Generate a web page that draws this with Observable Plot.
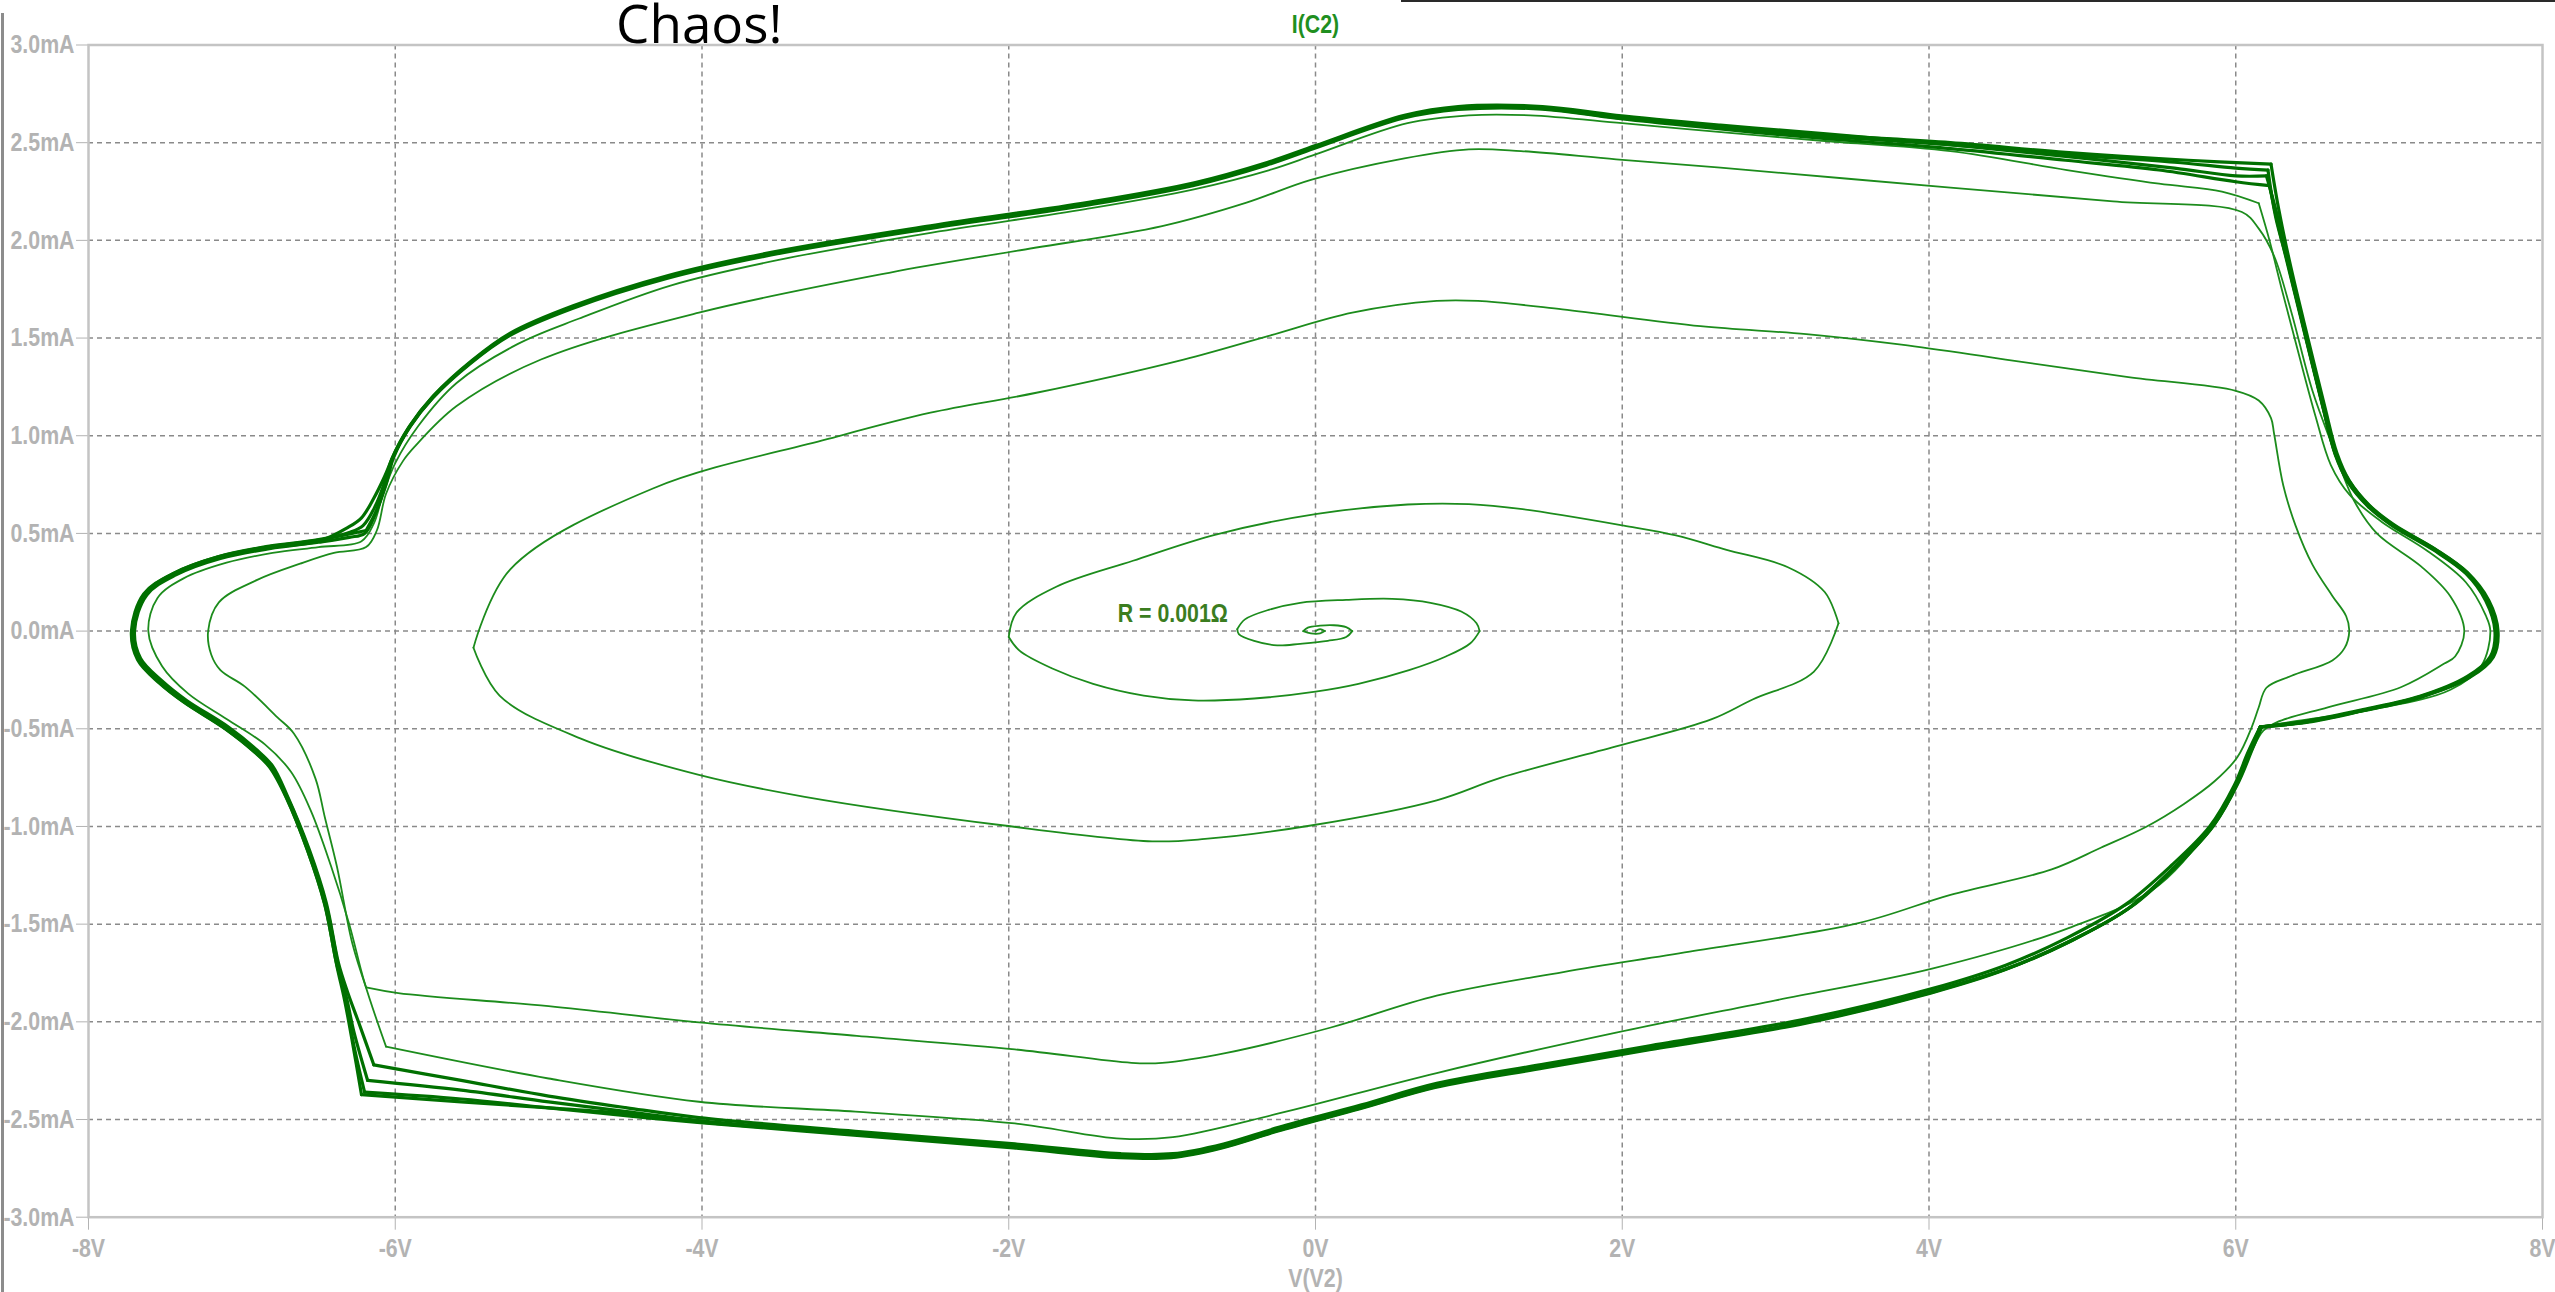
<!DOCTYPE html>
<html>
<head>
<meta charset="utf-8">
<script src="https://cdn.jsdelivr.net/npm/d3@7"></script>
<script src="https://cdn.jsdelivr.net/npm/@observablehq/plot@0.6"></script>
<style>
  html, body { margin: 0; padding: 0; background: #ffffff; }
  #wrap { position: relative; width: 2555px; height: 1292px; overflow: hidden; background: #fff; }
  #title { position: absolute; left: 616px; top: 0px; font-family: "Open Sans", "Noto Sans", sans-serif; font-size: 53px; line-height: 45px; color: #000; white-space: nowrap; }
  #leftbar { position: absolute; left: 1px; top: 13px; width: 3px; height: 1279px; background: #8c8c8c; }
  #topline { position: absolute; left: 1401px; top: 0px; width: 1154px; height: 2px; background: #2a2a2a; }
</style>
</head>
<body>
<div id="wrap">
  <div id="chart"></div>
  <div id="leftbar"></div>
  <div id="topline"></div>
  <div id="title">Chaos!</div>
</div>
<script>
// ---- axis ticks ----
const voltTicks = [-8, -6, -4, -2, 0, 2, 4, 6, 8];
const currentTicks = [-3, -2.5, -2, -1.5, -1, -0.5, 0, 0.5, 1, 1.5, 2, 2.5, 3];
const voltGrid = [-6, -4, -2, 0, 2, 4, 6];
const currentGrid = [-2.5, -2, -1.5, -1, -0.5, 0, 0.5, 1, 1.5, 2, 2.5];

// ---- trajectory V(V2) [V], I(C2) [mA] ----
// start-up: origin -> third loop
const innerSpiral = [
  [0,0],[0.03,0.01],[0.06,0],[0.03,-0.012],[-0.03,-0.012],[-0.08,0],[-0.05,0.018],[0.03,0.028],[0.12,0.03],[0.2,0.02],[0.24,0],
  [0.2,-0.03],[0.08,-0.05],[-0.1,-0.065],[-0.25,-0.073],[-0.4,-0.05],[-0.5,-0.015],[-0.51,0.01],[-0.46,0.06],[-0.3,0.11],[-0.1,0.145],
  [0.2,0.16],[0.5,0.165],[0.75,0.145],[0.95,0.1],[1.05,0.04],[1.07,0],[1.01,-0.062],[0.85,-0.13],[0.61,-0.2],[0.28,-0.27],[0,-0.31],
  [-0.4,-0.345],[-0.8,-0.355],[-1.12,-0.33],[-1.45,-0.27],[-1.72,-0.19],[-1.93,-0.1],[-2,-0.03],[-1.95,0.094],[-1.69,0.227],[-1.19,0.36],
  [-0.65,0.494],[0.01,0.6],[0.6,0.648],[1,0.65],[1.35,0.624],[2.01,0.54],[2.35,0.49],[2.68,0.416],[3.08,0.327],[3.32,0.2],[3.41,0.04]
];
// growing loops before the attractor
const outerSpiral = [
  [3.41,0.04],[3.25,-0.207],[2.85,-0.35],[2.58,-0.452],[1.96,-0.59],[1.21,-0.75],[0.79,-0.866],[-0.03,-0.995],[-0.72,-1.064],[-1.065,-1.076],
  [-2.03,-0.995],[-3.33,-0.848],[-4.02,-0.736],[-4.79,-0.55],[-5.32,-0.33],[-5.49,-0.085],[-5.25,0.316],[-4.32,0.73],[-3.19,0.981],[-2.51,1.118],
  [-1.82,1.22],[-0.86,1.39],[-0.31,1.51],[0.24,1.63],[0.79,1.69],[1.06,1.69],[1.61,1.647],[2.51,1.561],[3.2,1.52],[3.82,1.466],[4.5,1.39],
  [5.3,1.3],[6,1.23],[6.15,1.18],[6.23,1.09],[6.25,1.01],[6.31,0.745],[6.39,0.54],[6.5,0.34],[6.63,0.18],[6.72,0.076],[6.74,0],[6.71,-0.086],
  [6.63,-0.15],[6.36,-0.23],[6.2,-0.29],[6.15,-0.39],[6.105,-0.49],[6.01,-0.646],[5.86,-0.77],[5.66,-0.886],[5.42,-1.0],[5.12,-1.109],[4.8,-1.22],
  [4.14,-1.35],[3.54,-1.495],[2.44,-1.641],[1.615,-1.745],[0.79,-1.866],[0.1,-2.029],[-0.58,-2.159],[-1,-2.21],[-1.2,-2.21],[-1.96,-2.141],
  [-2.99,-2.072],[-4.02,-2.003],[-5,-1.92],[-5.98,-1.853],[-6.19,-1.824],[-6.28,-1.598],[-6.38,-1.206],[-6.46,-0.95],[-6.52,-0.755],[-6.66,-0.525],
  [-6.77,-0.44],[-6.98,-0.284],[-7.14,-0.2],[-7.2,-0.12],[-7.22,0],[-7.15,0.147],[-6.9,0.262],[-6.62,0.345],[-6.4,0.4],[-6.19,0.43],[-6.12,0.515],
  [-6.06,0.703],[-5.95,0.87],[-5.87,0.947],[-5.6,1.152],[-5.05,1.39],[-4.02,1.63],[-2.78,1.834],[-1.96,1.945],[-1,2.073],[-0.45,2.193],[-0.03,2.31],
  [0.58,2.42],[1,2.466],[1.34,2.457],[1.96,2.415],[2.64,2.372],[4.14,2.27],[5.2,2.2],[6.04,2.145],[6.15,2.06],[6.25,1.92],[6.36,1.64],[6.5,1.23],
  [6.63,0.95],[6.77,0.67],[6.92,0.5],[7.21,0.33],[7.4,0.177],[7.49,0],[7.43,-0.13],[7.36,-0.166],[7.08,-0.286],[6.6,-0.39],[6.27,-0.466],[6.18,-0.51],
  [6.1,-0.62],[5.95,-0.866],[5.5,-1.3],[4.91,-1.52],[4.02,-1.728],[3,-1.89],[1.96,-2.055],[0.79,-2.262],[-0.24,-2.469],[-0.93,-2.59],[-1.27,-2.598],
  [-1.96,-2.52],[-3,-2.46],[-4.02,-2.409],[-5,-2.29],[-6.06,-2.127],[-6.2,-1.8],[-6.3,-1.5],[-6.42,-1.2],[-6.55,-0.92],[-6.68,-0.72],[-6.85,-0.58],
  [-7.1,-0.45],[-7.35,-0.32],[-7.52,-0.18],[-7.61,0],[-7.55,0.17],[-7.38,0.27],[-7.1,0.35],[-6.8,0.4],[-6.5,0.43],[-6.22,0.46],[-6.14,0.55],
  [-6.08,0.7],[-6,0.86],[-5.85,1.05],[-5.6,1.27],[-5.2,1.47],[-4.8,1.6],[-4.2,1.77],[-3.5,1.9],[-2.5,2.04],[-1.5,2.16],[-0.8,2.26],[-0.3,2.36],
  [0,2.44],[0.6,2.6],[1,2.64],[1.4,2.64],[2,2.6],[2.7,2.55],[3.3,2.51],[4.14,2.457],[4.9,2.36],[5.5,2.29],[5.91,2.25],[6.15,2.19],[6.22,2],
  [6.3,1.75],[6.4,1.45],[6.52,1.1],[6.62,0.85],[6.74,0.7],[6.95,0.56],[7.25,0.41],[7.5,0.25],[7.63,0.08],[7.66,0],[7.6,-0.18],[7.4,-0.3],
  [6.9,-0.4],[6.4,-0.46],[6.16,-0.49]
];
// chaotic band: successive turns
const bandTurnA = [
  [6.16,-0.49],[6.1,-0.6],[6.01,-0.78],[5.85,-1.0],[5.6,-1.21],[5.3,-1.42],[4.91,-1.59],[4.5,-1.73],[4.02,-1.848],[3.2,-2.003],[2.16,-2.141],
  [1.5,-2.23],[0.79,-2.331],[0.3,-2.44],[-0.24,-2.555],[-0.6,-2.64],[-0.93,-2.69],[-1.27,-2.69],[-1.96,-2.64],[-3,-2.575],[-4.02,-2.512],
  [-4.49,-2.47],[-5,-2.44],[-5.57,-2.41],[-6.22,-2.373],[-6.28,-2.1],[-6.33,-1.89],[-6.38,-1.716],[-6.46,-1.4],[-6.57,-1.127],[-6.71,-0.853],
  [-6.82,-0.696],[-6.92,-0.618],[-7.11,-0.5],[-7.38,-0.363],[-7.54,-0.265],[-7.68,-0.147],[-7.72,0],[-7.64,0.19],[-7.45,0.294],[-7.16,0.379],
  [-6.84,0.43],[-6.51,0.464],[-6.29,0.498],[-6.19,0.515],[-6.12,0.62],[-6.06,0.75],[-6.01,0.89],[-5.9,1.05],[-5.75,1.2],[-5.5,1.38],[-5.25,1.52],
  [-4.84,1.66],[-4.22,1.815],[-3.54,1.935],[-2.51,2.07],[-1.48,2.19],[-0.79,2.29],[-0.31,2.395],[0,2.48],[0.58,2.635],[0.93,2.68],[1.48,2.68],
  [1.96,2.635],[2.64,2.585],[3.33,2.54],[4.14,2.5],[4.89,2.45],[5.69,2.41],[6.23,2.39],[6.28,2.16],[6.36,1.86],[6.47,1.5],[6.58,1.15],[6.66,0.91],
  [6.74,0.77],[6.87,0.645],[7.03,0.545],[7.3,0.42],[7.51,0.3],[7.65,0.157],[7.71,0],[7.68,-0.132],[7.53,-0.235],[7.21,-0.338],[6.84,-0.406],
  [6.47,-0.466],[6.16,-0.49]
];
const bandTurnB = [
  [6.16,-0.49],[6.08,-0.62],[5.99,-0.79],[5.83,-1.0],[5.58,-1.2],[5.28,-1.4],[4.9,-1.57],[4.5,-1.71],[4.02,-1.83],[3.2,-1.985],[2.16,-2.125],
  [1.5,-2.215],[0.79,-2.315],[0.3,-2.425],[-0.24,-2.54],[-0.6,-2.625],[-0.93,-2.675],[-1.27,-2.675],[-1.96,-2.625],[-3,-2.56],[-4.02,-2.49],
  [-4.49,-2.44],[-5,-2.38],[-5.57,-2.3],[-6.14,-2.22],[-6.24,-2],[-6.31,-1.85],[-6.37,-1.7],[-6.45,-1.39],[-6.56,-1.12],[-6.7,-0.85],
  [-6.8,-0.69],[-6.9,-0.61],[-7.09,-0.49],[-7.36,-0.355],[-7.52,-0.255],[-7.66,-0.14],[-7.7,0],[-7.62,0.185],[-7.43,0.288],[-7.14,0.372],
  [-6.82,0.422],[-6.5,0.455],[-6.3,0.48],[-6.2,0.5],[-6.13,0.6],[-6.07,0.74],[-6.02,0.88],[-5.91,1.04],[-5.76,1.19],[-5.51,1.37],[-5.26,1.51],
  [-4.85,1.65],[-4.23,1.805],[-3.55,1.925],[-2.52,2.06],[-1.49,2.18],[-0.8,2.28],[-0.32,2.385],[-0.01,2.47],[0.57,2.625],[0.93,2.67],[1.48,2.672],
  [1.96,2.625],[2.64,2.57],[3.33,2.52],[4.14,2.47],[4.89,2.41],[5.5,2.36],[6,2.3],[6.22,2.28],[6.27,2.1],[6.35,1.84],[6.46,1.49],[6.57,1.14],
  [6.65,0.9],[6.73,0.765],[6.86,0.64],[7.02,0.54],[7.29,0.415],[7.5,0.295],[7.63,0.155],[7.69,0],[7.66,-0.13],[7.51,-0.232],[7.2,-0.334],
  [6.83,-0.402],[6.46,-0.46],[6.17,-0.49]
];
const bandTurnC = [
  [6.17,-0.49],[6.11,-0.6],[6.02,-0.77],[5.86,-0.99],[5.62,-1.2],[5.32,-1.41],[4.93,-1.585],[4.52,-1.725],[4.03,-1.842],[3.21,-1.997],[2.17,-2.135],
  [1.51,-2.225],[0.8,-2.325],[0.31,-2.436],[-0.23,-2.55],[-0.59,-2.636],[-0.92,-2.686],[-1.26,-2.686],[-1.95,-2.635],[-3,-2.57],[-4.02,-2.505],
  [-4.49,-2.46],[-5,-2.41],[-5.57,-2.35],[-6.18,-2.3],[-6.27,-2.05],[-6.32,-1.87],[-6.38,-1.71],[-6.46,-1.395],[-6.57,-1.125],[-6.71,-0.85],
  [-6.81,-0.693],[-6.91,-0.614],[-7.1,-0.496],[-7.37,-0.36],[-7.53,-0.26],[-7.67,-0.145],[-7.71,0],[-7.63,0.188],[-7.44,0.291],[-7.15,0.376],
  [-6.83,0.427],[-6.5,0.46],[-6.31,0.53],[-6.22,0.58],[-6.14,0.68],[-6.07,0.79],[-6.01,0.9],[-5.9,1.055],[-5.75,1.205],[-5.5,1.385],[-5.25,1.525],
  [-4.84,1.665],[-4.22,1.82],[-3.54,1.94],[-2.51,2.075],[-1.48,2.195],[-0.79,2.295],[-0.31,2.4],[0,2.485],[0.58,2.64],[0.93,2.685],[1.48,2.685],
  [1.96,2.64],[2.64,2.59],[3.33,2.545],[4.14,2.49],[4.89,2.43],[5.6,2.37],[6,2.33],[6.2,2.33],[6.27,2.13],[6.35,1.85],[6.46,1.5],[6.57,1.145],
  [6.65,0.905],[6.74,0.768],[6.87,0.642],[7.03,0.542],[7.3,0.418],[7.51,0.298],[7.64,0.156],[7.7,0],[7.67,-0.131],[7.52,-0.234],[7.2,-0.336],
  [6.84,-0.404],[6.47,-0.463],[6.16,-0.49]
];
const bandTurnD = [
  [6.16,-0.49],[6.1,-0.61],[6,-0.785],[5.84,-1.005],[5.59,-1.215],[5.29,-1.425],[4.9,-1.595],[4.49,-1.735],[4.01,-1.853],[3.19,-2.008],[2.15,-2.146],
  [1.49,-2.236],[0.78,-2.336],[0.29,-2.445],[-0.25,-2.56],[-0.61,-2.645],[-0.94,-2.695],[-1.28,-2.695],[-1.97,-2.645],[-3.01,-2.58],[-4.03,-2.515],
  [-4.5,-2.48],[-5,-2.44],[-5.57,-2.395],[-6.2,-2.36],[-6.27,-2.12],[-6.32,-1.9],[-6.37,-1.72],[-6.45,-1.405],[-6.56,-1.13],[-6.7,-0.856],
  [-6.81,-0.7],[-6.91,-0.622],[-7.1,-0.503],[-7.37,-0.367],[-7.53,-0.268],[-7.67,-0.15],[-7.71,0],[-7.63,0.192],[-7.44,0.297],[-7.15,0.382],
  [-6.83,0.434],[-6.5,0.468],[-6.3,0.505],[-6.21,0.54],[-6.13,0.64],[-6.07,0.76],[-6.02,0.885],[-5.91,1.045],[-5.76,1.195],[-5.51,1.375],[-5.26,1.515],
  [-4.85,1.655],[-4.23,1.81],[-3.55,1.93],[-2.52,2.065],[-1.49,2.185],[-0.8,2.285],[-0.32,2.39],[-0.01,2.475],[0.57,2.63],[0.92,2.675],[1.47,2.676],
  [1.95,2.63],[2.63,2.578],[3.32,2.532],[4.13,2.49],[4.88,2.44],[5.6,2.4],[6,2.37],[6.21,2.36],[6.26,2.12],[6.35,1.855],[6.46,1.495],[6.57,1.147],
  [6.65,0.907],[6.73,0.767],[6.86,0.643],[7.02,0.543],[7.29,0.418],[7.5,0.298],[7.64,0.156],[7.7,0],[7.67,-0.133],[7.52,-0.236],[7.2,-0.338],
  [6.83,-0.405],[6.46,-0.465],[6.16,-0.49]
];
const bandTurns = [bandTurnA, bandTurnB, bandTurnC, bandTurnD];

// ---- annotations ----
const annotationText = ["R = 0.001Ω"];
const annotationV = [-0.93];
const annotationI = [0.09];
const traceName = "I(C2)";
const xName = "V(V2)";

// ---- styles ----
const thinGreen = "#1c8c1c";
const bandGreen = "#007000";
const gridStyle = {stroke: "#8a8a8a", strokeWidth: 1.5, strokeDasharray: "5,4"};
const labelFont = '"Liberation Sans", Arial, sans-serif';

// split a trace at its sharp corners so each smooth run can be drawn with a spline
function splitAtCorners(pts) {
  const px = p => [p[0] * 153.3, -p[1] * 195.4];
  const pieces = [];
  let cur = [pts[0]];
  for (let i = 1; i < pts.length; i++) {
    cur.push(pts[i]);
    if (i < pts.length - 1) {
      const a = px(pts[i - 1]), b = px(pts[i]), c = px(pts[i + 1]);
      const u = [b[0] - a[0], b[1] - a[1]], v = [c[0] - b[0], c[1] - b[1]];
      const cos = (u[0] * v[0] + u[1] * v[1]) / (Math.hypot(u[0], u[1]) * Math.hypot(v[0], v[1]));
      if (cos < Math.cos(50 * Math.PI / 180)) { pieces.push(cur); cur = [pts[i]]; }
    }
  }
  pieces.push(cur);
  return pieces;
}
const traceMarks = (pts, color, w) => splitAtCorners(pts).map(piece =>
  Plot.line(piece, {x: d => d[0], y: d => d[1], stroke: color, strokeWidth: w, curve: "catmull-rom", strokeLinejoin: "round", strokeLinecap: "round"})
);

const chart = Plot.plot({
  width: 2555,
  height: 1292,
  marginLeft: 88,
  marginRight: 13,
  marginTop: 44.5,
  marginBottom: 75.3,
  style: {fontFamily: labelFont, fontSize: "26px", fontWeight: "bold", color: "#b3b3b3", background: "#ffffff", overflow: "visible"},
  x: {domain: [-8, 8], ticks: voltTicks, tickFormat: d => `${d}V`, tickSize: 13, tickPadding: 8, label: null},
  y: {domain: [-3, 3], ticks: currentTicks, tickFormat: d => `${d.toFixed(1)}mA`, tickSize: 12, tickPadding: 2, label: null},
  marks: [
    Plot.ruleX(voltGrid, gridStyle),
    Plot.ruleY(currentGrid, gridStyle),
    ...traceMarks(innerSpiral, thinGreen, 1.8),
    ...traceMarks(outerSpiral, thinGreen, 1.8),
    ...bandTurns.flatMap(t => traceMarks(t, bandGreen, 3.2)),
    Plot.text(annotationText, {x: (d, i) => annotationV[i], y: (d, i) => annotationI[i], text: d => d, fill: "#3b7d1f", fontSize: 26, fontWeight: "bold", textAnchor: "middle", lineAnchor: "middle"}),
    Plot.text([traceName], {frameAnchor: "top", dy: -20, text: d => d, fill: "#1f8f1f", fontSize: 26, fontWeight: "bold", lineAnchor: "middle"}),
    Plot.text([xName], {frameAnchor: "bottom", dy: 61, text: d => d, fill: "#b3b3b3", fontSize: 26, fontWeight: "bold", lineAnchor: "middle"}),
    Plot.frame({stroke: "#c4c4c4", strokeWidth: 2.5})
  ]
});
document.getElementById("chart").appendChild(chart);
// condensed lettering like the reference: narrow every label horizontally
chart.querySelectorAll("text").forEach(t => {
  const w = t.getComputedTextLength();
  if (w > 0) {
    t.setAttribute("textLength", (w * 0.82).toFixed(1));
    t.setAttribute("lengthAdjust", "spacingAndGlyphs");
  }
});
</script>
</body>
</html>
